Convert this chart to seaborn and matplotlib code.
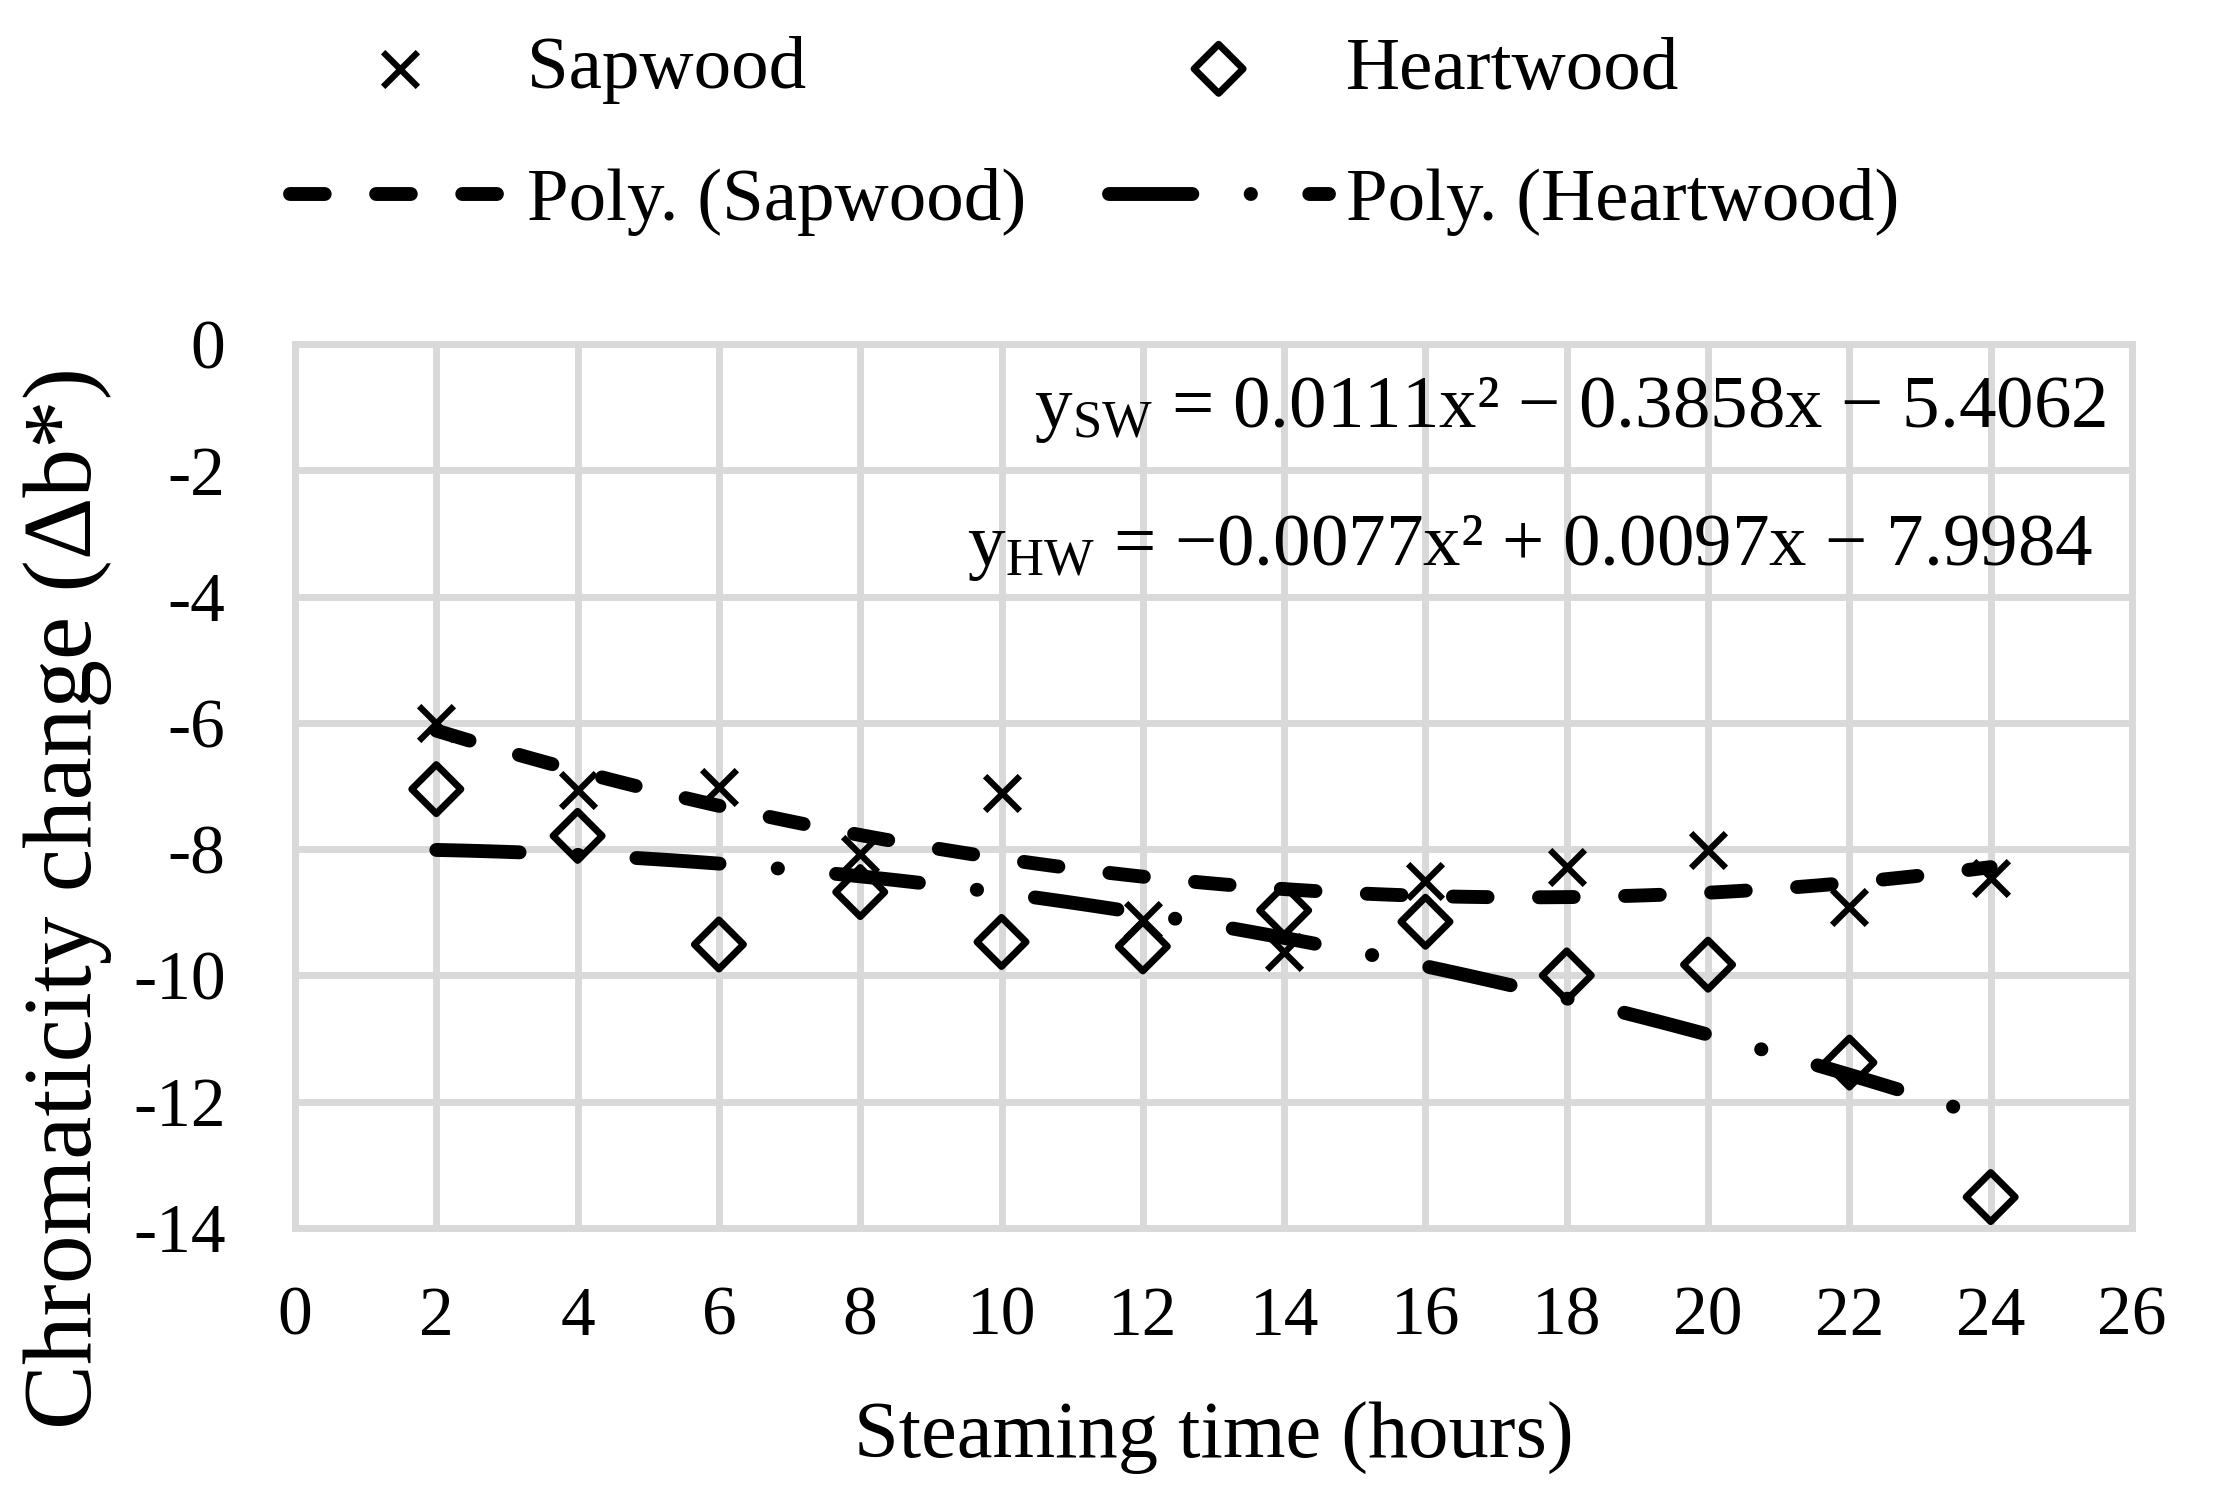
import numpy as np
import pandas as pd
import seaborn as sns
import matplotlib
matplotlib.use("Agg")
import matplotlib.pyplot as plt

# data
hours = [2, 4, 6, 8, 10, 12, 14, 16, 18, 20, 22, 24]
sapwood = [-6.0, -7.07, -7.02, -8.08, -7.11, -9.13, -9.63, -8.50, -8.28, -8.01, -8.91, -8.46]
heartwood = [-7.05, -7.79, -9.51, -8.68, -9.47, -9.54, -8.97, -9.15, -10.0, -9.83, -11.38, -13.51]

eq_sw = "= 0.0111x\u00b2 \u2212 0.3858x \u2212 5.4062"
eq_hw = "= \u22120.0077x\u00b2 + 0.0097x \u2212 7.9984"

df = pd.DataFrame({"hours": hours, "Sapwood": sapwood, "Heartwood": heartwood})

sns.set_style("white")
plt.rcParams["font.family"] = ["Liberation Serif", "DejaVu Serif"]
plt.rcParams["mathtext.fontset"] = "custom"
plt.rcParams["mathtext.rm"] = "Liberation Serif"
plt.rcParams["text.color"] = "black"
plt.rcParams["axes.labelcolor"] = "black"

W, H = 2221, 1511
fig = plt.figure(figsize=(W / 100, H / 100), dpi=100)
ax = fig.add_axes([295 / W, 1 - 1228 / H, (2132 - 295) / W, (1228 - 344) / H])

grid = "#d9d9d9"

sns.scatterplot(data=df, x="hours", y="Sapwood", marker="x", color="black",
                s=25 ** 2, linewidth=4.5, label="Sapwood", ax=ax, zorder=3)
sns.scatterplot(data=df, x="hours", y="Heartwood", marker="D", facecolor="none",
                edgecolor="black", s=25 ** 2, linewidth=5, label="Heartwood",
                ax=ax, zorder=3)

sns.regplot(data=df, x="hours", y="Sapwood", order=2, scatter=False, ci=None,
            truncate=True, label="Poly. (Sapwood)", ax=ax,
            line_kws=dict(color="black", linewidth=10, dashes=(2.5, 3.7),
                          dash_capstyle="round", zorder=4))
sns.regplot(data=df, x="hours", y="Heartwood", order=2, scatter=False, ci=None,
            truncate=True, label="Poly. (Heartwood)", ax=ax,
            line_kws=dict(color="black", linewidth=10, dashes=(6.0, 4.2, 0.02, 4.2),
                          dash_capstyle="round", zorder=4))

ax.set_xlim(0, 26)
ax.set_ylim(-14, 0)
ax.set_xticks(range(0, 27, 2))
ax.set_yticks(range(-14, 1, 2))
ax.set_yticklabels([str(v) for v in range(-14, 1, 2)])
ax.grid(True, color=grid, lw=5)
ax.set_axisbelow(True)
for s in ax.spines.values():
    s.set_color(grid)
    s.set_linewidth(5)
ax.tick_params(axis="both", length=0, labelsize=50, colors="black")
ax.tick_params(axis="x", pad=42)
ax.tick_params(axis="y", pad=50)
ax.set_xlabel("")
ax.set_ylabel("")

ax.text(0.986, 0.906, r"$\mathregular{y_{SW}}$ " + eq_sw, transform=ax.transAxes,
        ha="right", va="baseline", fontsize=54)
ax.text(0.979, 0.75, r"$\mathregular{y_{HW}}$ " + eq_hw, transform=ax.transAxes,
        ha="right", va="baseline", fontsize=54)

fig.text(1214 / W, 1 - 1438 / H, "Steaming time (hours)", ha="center", va="center",
         fontsize=58)
fig.text(68 / W, 1 - 898 / H, "Chromaticity change (\u0394b*)", ha="center",
         va="center", rotation=90, fontsize=70)

handles, labels = ax.get_legend_handles_labels()
order = ["Sapwood", "Poly. (Sapwood)", "Heartwood", "Poly. (Heartwood)"]
hmap = dict(zip(labels, handles))
if ax.legend_:
    ax.legend_.remove()
fig.legend([hmap[k] for k in order], order, ncol=2, loc="upper left",
           bbox_to_anchor=(290 / W, 1 - 36 / H), frameon=False, fontsize=54,
           handlelength=2.93, handletextpad=0.23, columnspacing=1.1,
           labelspacing=0.84, borderpad=0, borderaxespad=0)

fig.savefig("out.png", dpi=100)
